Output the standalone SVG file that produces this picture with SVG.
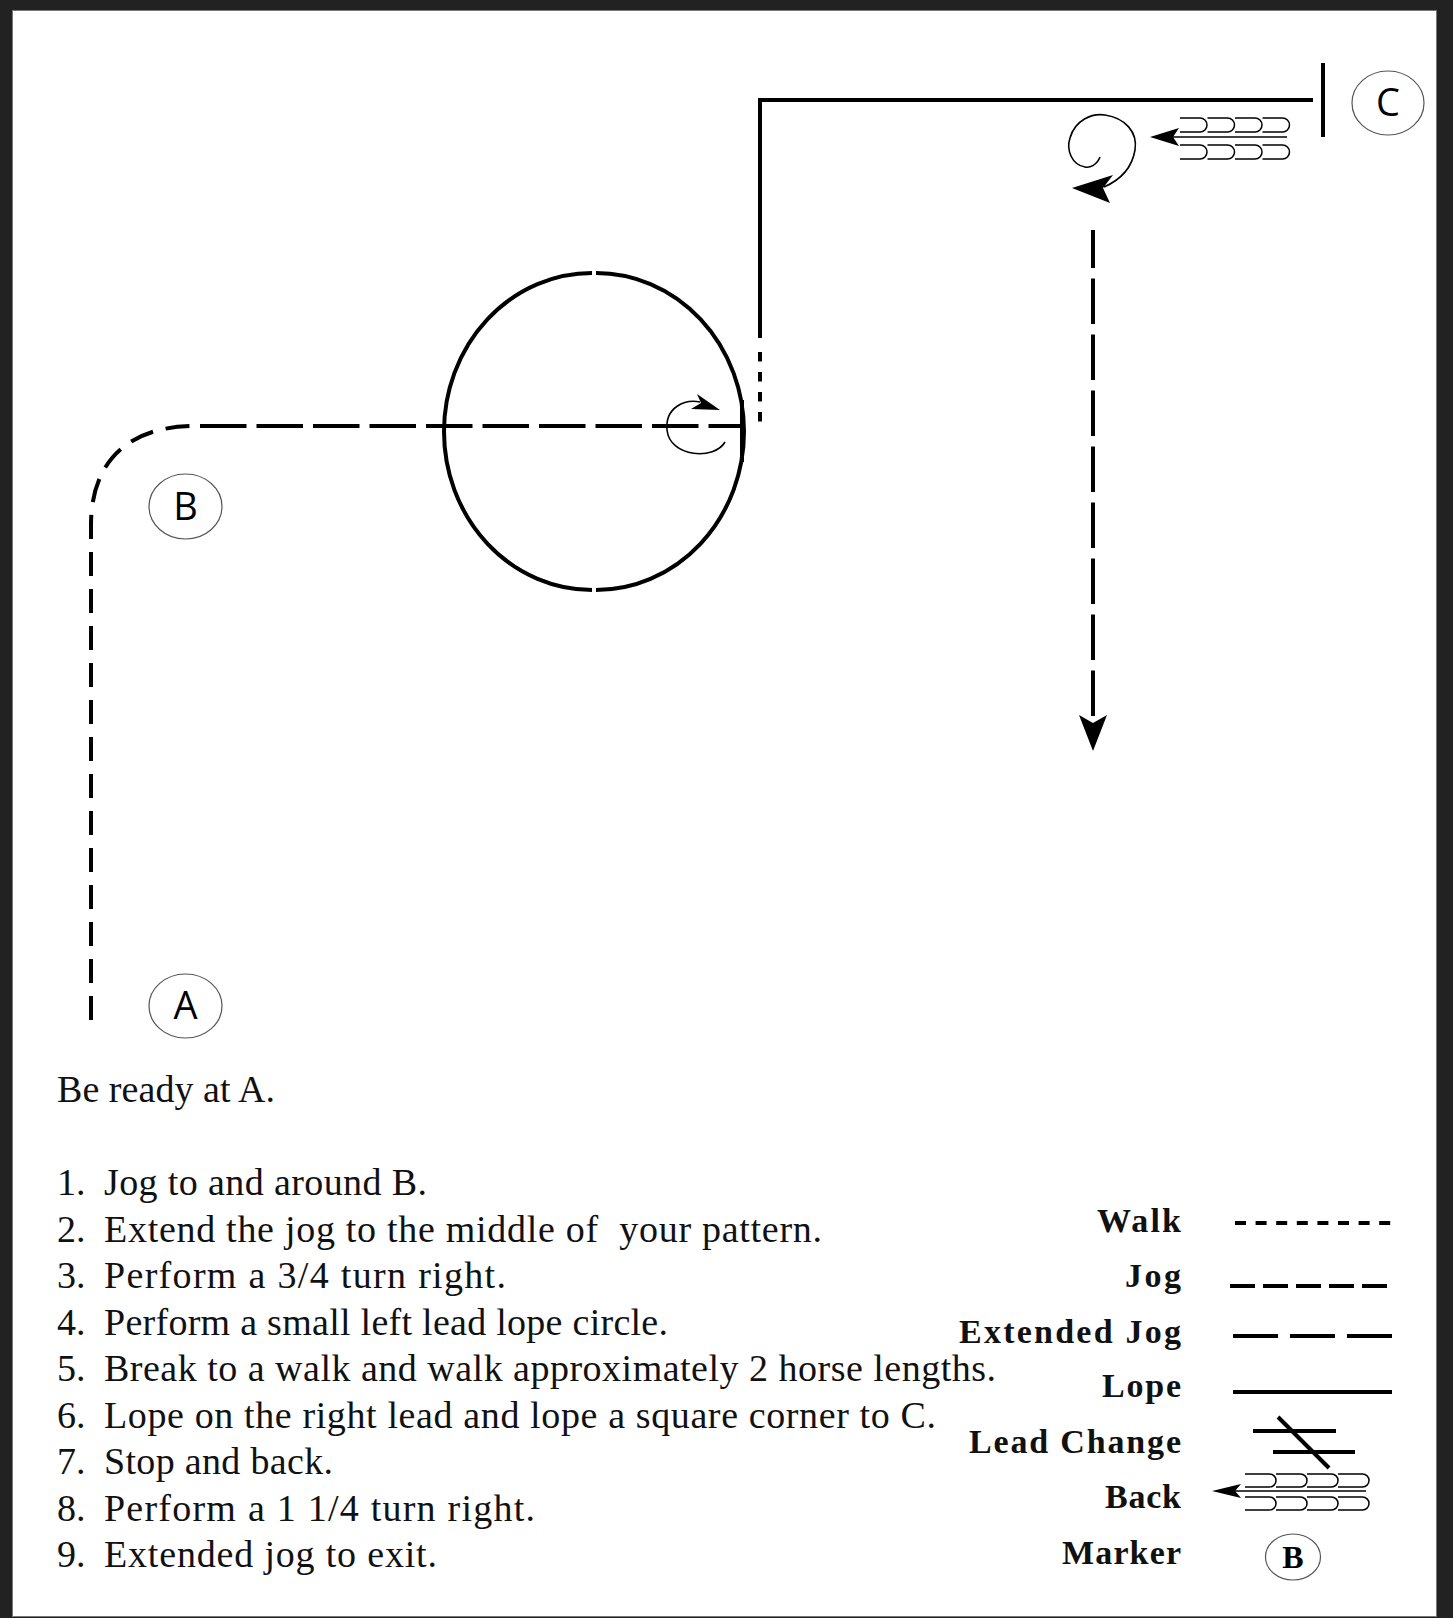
<svg xmlns="http://www.w3.org/2000/svg" width="1453" height="1618" viewBox="0 0 1453 1618">
<style>
.ln{fill:none;stroke:#000;stroke-width:4}
.thin{fill:none;stroke:#000;stroke-width:1.6}
.mk{fill:#fff;stroke:#555;stroke-width:1.2}
.mkt{font-family:"Open Sans","DejaVu Sans",sans-serif;font-size:38px;fill:#000;text-anchor:middle}
.body{font-family:"Liberation Serif","Times New Roman",serif;font-size:38px;fill:#111}
.leg{font-family:"Liberation Serif","Times New Roman",serif;font-size:34px;font-weight:bold;fill:#111;text-anchor:end}
</style>
<defs>
<path id="cup" d="M0,0 h20 a7,7 0 0 1 0,14 h-20" fill="none" stroke="#000" stroke-width="1.5"/>
<path id="cupL" d="M0,0 h24.5 a6.5,6.5 0 0 1 0,13 h-24.5" fill="none" stroke="#000" stroke-width="1.5"/>
</defs>
<rect x="0" y="0" width="1453" height="1618" fill="#222"/>
<rect x="12.5" y="10.5" width="1424" height="1606" fill="#fff" stroke="#777" stroke-width="1"/>

<g id="connectors">
<!-- jog from A around B -->
<path class="ln" d="M91,1020 V525 C91,460 130,426 195,426 H200" stroke-dasharray="24 13"/>
<!-- extended jog to middle -->
<path class="ln" d="M200,426 H742" stroke-dasharray="46.5 10"/>
<!-- lope circle -->
<path class="ln" d="M592,273 A148,158.5 0 0 0 592,590"/>
<path class="ln" d="M596,273 A148,158.5 0 0 1 596,590"/>
<line class="ln" x1="742" y1="400" x2="742" y2="462" stroke-width="4.5"/>
<!-- 3/4 turn right -->
<path class="thin" d="M725,442 C715,460 670,458 667,430 C665,407 685,399 700,402"/>
<polygon points="720,410 697,394 701,403 691,409"/>
<!-- walk -->
<path class="ln" d="M760,352 V424" stroke-dasharray="9.5 10.5"/>
<!-- lope square corner -->
<path class="ln" d="M760,338 V100 H1313" stroke-linejoin="miter"/>
<line class="ln" x1="1323" y1="63" x2="1323" y2="137"/>
<!-- back at C -->
<line class="thin" x1="1170" y1="137" x2="1287" y2="137"/>
<polygon points="1150,137 1179,128 1173,137 1179,146"/>
<use href="#cup" x="1180" y="118"/><use href="#cup" x="1207.5" y="118"/><use href="#cup" x="1235" y="118"/><use href="#cup" x="1262.5" y="118"/>
<use href="#cup" x="1180" y="145"/><use href="#cup" x="1207.5" y="145"/><use href="#cup" x="1235" y="145"/><use href="#cup" x="1262.5" y="145"/>
<!-- 1 1/4 turn right -->
<path class="thin" d="M1100,157 C1097,165 1090,168 1085,167 C1072,165 1066,150 1070,138 C1075,120 1092,113 1105,115 C1125,118 1138,132 1135,150 C1132,168 1120,180 1104,187"/>
<polygon points="1072,188 1113,175 1103,188 1110,203"/>
<!-- extended jog to exit -->
<path class="ln" d="M1093,230 V717" stroke-dasharray="45.5 10.5" stroke-dashoffset="7.5"/>
<polygon points="1093,751 1079,715 1093,723 1107,715"/>
</g>

<g id="marker-A">
<ellipse class="mk" cx="185.5" cy="1006" rx="36.5" ry="32"/>
<text class="mkt" x="185.5" y="1019">A</text>
</g>
<g id="marker-B">
<ellipse class="mk" cx="185.5" cy="506.5" rx="36.5" ry="32.5"/>
<text class="mkt" x="185.5" y="520">B</text>
</g>
<g id="marker-C">
<ellipse class="mk" cx="1388" cy="103" rx="36" ry="32"/>
<text class="mkt" x="1388" y="116">C</text>
</g>

<g id="instructions">
<text class="body" x="57" y="1102" textLength="218">Be ready at A.</text>
<text class="body" x="57" y="1195">1.</text><text class="body" x="104" y="1195" textLength="323">Jog to and around B.</text>
<text class="body" x="57" y="1241.5">2.</text><text class="body" x="104" y="1241.5" textLength="718" xml:space="preserve">Extend the jog to the middle of  your pattern.</text>
<text class="body" x="57" y="1288">3.</text><text class="body" x="104" y="1288" textLength="402">Perform a 3/4 turn right.</text>
<text class="body" x="57" y="1334.5">4.</text><text class="body" x="104" y="1334.5" textLength="564">Perform a small left lead lope circle.</text>
<text class="body" x="57" y="1381">5.</text><text class="body" x="104" y="1381" textLength="892">Break to a walk and walk approximately 2 horse lengths.</text>
<text class="body" x="57" y="1427.5">6.</text><text class="body" x="104" y="1427.5" textLength="832">Lope on the right lead and lope a square corner to C.</text>
<text class="body" x="57" y="1474">7.</text><text class="body" x="104" y="1474" textLength="229">Stop and back.</text>
<text class="body" x="57" y="1520.5">8.</text><text class="body" x="104" y="1520.5" textLength="431">Perform a 1 1/4 turn right.</text>
<text class="body" x="57" y="1567">9.</text><text class="body" x="104" y="1567" textLength="333">Extended jog to exit.</text>
</g>

<g id="legend">
<text class="leg" x="1181" y="1232" textLength="84">Walk</text>
<line class="ln" x1="1235" y1="1223" x2="1393" y2="1223" stroke-dasharray="11 9.6"/>
<text class="leg" x="1181" y="1287" textLength="56">Jog</text>
<line class="ln" x1="1230" y1="1286" x2="1388" y2="1286" stroke-dasharray="25 8"/>
<text class="leg" x="1181" y="1343" textLength="222">Extended Jog</text>
<line class="ln" x1="1233" y1="1336" x2="1392" y2="1336" stroke-dasharray="45 12"/>
<text class="leg" x="1181" y="1397" textLength="79">Lope</text>
<line class="ln" x1="1233" y1="1392" x2="1392" y2="1392"/>
<text class="leg" x="1181" y="1453" textLength="212">Lead Change</text>
<line class="ln" x1="1253" y1="1431" x2="1336" y2="1431"/>
<line class="ln" x1="1273" y1="1452" x2="1355" y2="1452"/>
<line class="ln" x1="1278" y1="1417" x2="1329" y2="1468"/>
<text class="leg" x="1181" y="1508" textLength="76">Back</text>
<line class="thin" x1="1234" y1="1491" x2="1366" y2="1491"/>
<polygon points="1212,1491 1241,1484 1235,1491 1241,1498"/>
<use href="#cupL" x="1245" y="1474"/><use href="#cupL" x="1276" y="1474"/><use href="#cupL" x="1307" y="1474"/><use href="#cupL" x="1338" y="1474"/>
<use href="#cupL" x="1245" y="1497"/><use href="#cupL" x="1276" y="1497"/><use href="#cupL" x="1307" y="1497"/><use href="#cupL" x="1338" y="1497"/>
<text class="leg" x="1181" y="1564" textLength="119">Marker</text>
<ellipse class="mk" cx="1293" cy="1557" rx="27.5" ry="23"/>
<text x="1293" y="1568" font-family="Liberation Serif,serif" font-size="32" font-weight="bold" text-anchor="middle">B</text>
</g>
</svg>
